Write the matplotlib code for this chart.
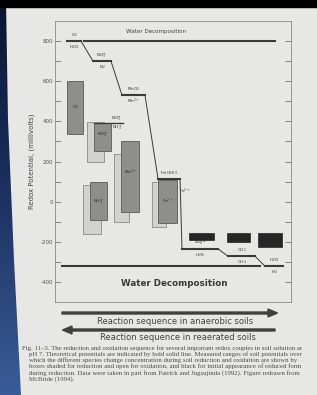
import numpy as np
import matplotlib.pyplot as plt
from matplotlib.patches import Rectangle, Polygon, FancyArrow
from matplotlib.colors import LinearSegmentedColormap

# theoretical redox couples (pH 7)
ox_labels = [r'O$_2$', r'NO$_3^-$', r'MnO$_2$', r'Fe(OH)$_3$', r'SO$_4^{2-}$', r'CO$_2$', r'H$_2$O']
red_labels = [r'H$_2$O', r'N$_2$', r'Mn$^{2+}$', r'Fe$^{2+}$', r'H$_2$S', r'CH$_4$', r'H$_2$']
eh_theory = [800, 700, 530, 115, -235, -272, -322]
seg_start = [12, 38, 67, 103, 127, 173, 210]
seg_end = [26, 56, 90, 125, 163, 200, 228]

# NO3-/NH4+ couple
no3_nh4_eh = 392
no3_nh4_x = [39, 68]

# measured ranges: [x0, x1, low, high]
shaded_names = [r'O$_2$', r'NO$_3^-$', r'NH$_4^+$', r'Mn$^{2+}$', r'Fe$^{2+}$']
shaded_x0 = [12, 39, 35, 66, 103]
shaded_x1 = [28, 56, 52, 84, 122]
shaded_lo = [335, 250, -90, -50, -105]
shaded_hi = [600, 392, 100, 300, 110]
shaded_label_y = [470, 330, 0, 145, 0]

open_x0 = [32, 28, 59, 97]
open_x1 = [49, 46, 74, 111]
open_lo = [200, -160, -100, -125]
open_hi = [398, 85, 235, 100]

black_x0 = [134, 172, 203]
black_x1 = [159, 195, 227]
black_lo = [-190, -200, -225]
black_hi = [-155, -155, -155]

water_top = 800
water_top_x = [29, 220]
water_bottom = -322
water_bottom_x = [7, 205]

yticks = [-400, -200, 0, 200, 400, 600, 800]

caption = [
    'Fig. 11\u20133. The reduction and oxidation sequence for several important redox couples in soil solution at',
    'pH 7. Theoretical potentials are indicated by bold solid line. Measured ranges of soil potentials over',
    'which the different species change concentration during soil reduction and oxidation are shown by',
    'boxes shaded for reduction and open for oxidation, and black for initial appearance of reduced form',
    'during reduction. Data were taken in part from Patrick and Jugsujinda (1992). Figure redrawn from',
    'McBride (1994).',
]

W, H = 317, 395
page = '#e7e7e5'
ink = '#3a3a3a'

fig = plt.figure(figsize=(W / 100, H / 100), dpi=100)
fig.patch.set_facecolor(page)

# slide background: black top strip and blue left edge
bg = fig.add_axes([0, 0, 1, 1], zorder=-5)
bg.set_xlim(0, W)
bg.set_ylim(H, 0)
bg.axis('off')
grad = np.linspace(0, 1, 200).reshape(-1, 1)
blues = LinearSegmentedColormap.from_list('bl', ['#0a1430', '#1c3262', '#3a5c96'])
im = bg.imshow(grad, extent=[0, 22, H, 0], cmap=blues, aspect='auto')
edge = Polygon([[0, 0], [6, 0], [8, 120], [14, 260], [21, H], [0, H]], closed=True,
               facecolor='none', edgecolor='none')
bg.add_patch(edge)
im.set_clip_path(edge)
bg.add_patch(Rectangle((0, 0), W, 7, color='black'))

ax = fig.add_axes([55 / W, 93 / H, 236 / W, 281 / H])
ax.set_facecolor(page)
ax.set_xlim(0, 236)
ax.set_ylim(-500, 900)

for x0, x1, lo, hi in zip(open_x0, open_x1, open_lo, open_hi):
    ax.add_patch(Rectangle((x0, lo), x1 - x0, hi - lo, facecolor='#d2d2d0',
                           edgecolor='#8a8a8a', linewidth=0.6, zorder=2))
for name, x0, x1, lo, hi, ly in zip(shaded_names, shaded_x0, shaded_x1, shaded_lo, shaded_hi, shaded_label_y):
    ax.add_patch(Rectangle((x0, lo), x1 - x0, hi - lo, facecolor='#8e8e8c',
                           edgecolor='#5a5a5a', linewidth=0.6, zorder=3))
    ax.text((x0 + x1) / 2, ly, name, fontsize=3, color='#2a2a2a', ha='center', va='center', zorder=4)
for x0, x1, lo, hi in zip(black_x0, black_x1, black_lo, black_hi):
    ax.add_patch(Rectangle((x0, lo), x1 - x0, hi - lo, facecolor='#262626',
                           edgecolor='#262626', linewidth=0.5, zorder=3))

# water decomposition lines
ax.plot(water_top_x, [water_top] * 2, color=ink, linewidth=1.5, zorder=5)
ax.plot(water_bottom_x, [water_bottom] * 2, color=ink, linewidth=1.5, zorder=5)

# theoretical couples and connecting staircase
for i in range(len(eh_theory)):
    ax.plot([seg_start[i], seg_end[i]], [eh_theory[i]] * 2, color=ink, linewidth=1.5, zorder=5)
    cx = (seg_start[i] + seg_end[i]) / 2
    ax.text(cx, eh_theory[i] + 28, ox_labels[i], fontsize=3, color='#333333', ha='center', va='center')
    if red_labels[i] == r'Fe$^{2+}$':
        ax.text(seg_end[i] + 5, 50, red_labels[i], fontsize=3, color='#333333', ha='center', va='center')
    else:
        ax.text(cx, eh_theory[i] - 32, red_labels[i], fontsize=3, color='#333333', ha='center', va='center')
    if i + 1 < len(eh_theory):
        ax.plot([seg_end[i], seg_start[i + 1]], [eh_theory[i], eh_theory[i + 1]],
                color=ink, linewidth=0.7, zorder=5)

ax.plot(no3_nh4_x, [no3_nh4_eh] * 2, color=ink, linewidth=1.0, zorder=5)
ax.text(62, no3_nh4_eh + 22, r'NO$_3^-$', fontsize=3, color='#333333', ha='center', va='center')
ax.text(62, no3_nh4_eh - 25, r'NH$_4^+$', fontsize=3, color='#333333', ha='center', va='center')

ax.text(101, 850, 'Water Decomposition', fontsize=4.1, color='#444444', ha='center', va='center')
ax.text(119, -408, 'Water Decomposition', fontsize=6.3, fontweight='bold', color='#3a3a3a',
        ha='center', va='center')

ax.set_yticks(yticks)
ax.set_yticks(range(-400, 801, 100), minor=True)
ax.set_xticks([])
ax.tick_params(axis='y', which='both', direction='in', length=4, width=0.6, color='#777777',
               labelsize=4, labelcolor='#555555', right=True, pad=1.5)
ax.set_yticklabels([str(v) for v in yticks])
for s in ax.spines.values():
    s.set_color('#8a8a8a')
    s.set_linewidth(0.6)
ax.set_ylabel('Redox Potential, (millivolts)', fontsize=5, color='#444444', labelpad=4)

# reaction sequence arrows
fig.patches.append(FancyArrow(
    62 / W, 1 - 313 / H, 206 / W, 0, width=0.005, head_width=0.02, head_length=0.03,
    length_includes_head=False, color='#404040', transform=fig.transFigure))
fig.patches.append(FancyArrow(
    275 / W, 1 - 330 / H, -203 / W, 0, width=0.005, head_width=0.02, head_length=0.03,
    length_includes_head=False, color='#404040', transform=fig.transFigure))
fig.text(175 / W, 1 - 321 / H, 'Reaction sequence in anaerobic soils', fontsize=6,
         color='#444444', ha='center', va='center')
fig.text(178 / W, 1 - 338 / H, 'Reaction sequence in reaerated soils', fontsize=6,
         color='#444444', ha='center', va='center')

for i, line in enumerate(caption):
    fig.text((22 if i == 0 else 29) / W, 1 - (348 + 6.2 * i) / H, line, fontsize=4.9,
             family='Liberation Serif', color='#4a4a4a', ha='left', va='center')

fig.savefig('out.png', dpi=100, facecolor=fig.get_facecolor())
